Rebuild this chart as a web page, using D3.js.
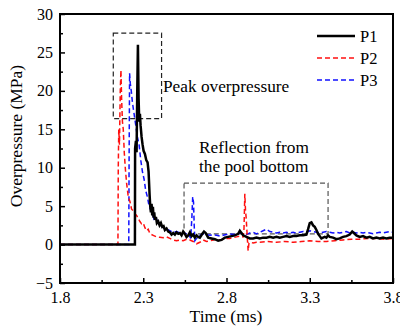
<!DOCTYPE html>
<html><head><meta charset="utf-8">
<script src="https://cdn.jsdelivr.net/npm/d3@7"></script>
<style>body{margin:0;background:#fff}svg{display:block}</style>
</head><body><svg id="c" width="400" height="333"></svg>
<script>
const xTicks=[1.8,2.3,2.8,3.3,3.8];
const xMinor=[2.05,2.55,3.05,3.55];
const yTicks=[-5,0,5,10,15,20,25,30];
const yMinor=[-2.5,2.5,7.5,12.5,17.5,22.5,27.5];
const seriesNames=["P1","P2","P3"];
const p1T=[1.80,2.25,2.251,2.256,2.260,2.264,2.268,2.272,2.276,2.280,2.284,2.290,2.296,2.302,2.310,2.318,2.326,2.332,2.338,2.342,2.346,2.350,2.354,2.358,2.362,2.366,2.370,2.376,2.382,2.390,2.398,2.406,2.414,2.422,2.430,2.440,2.450,2.460,2.470,2.480,2.490,2.500,2.510,2.520,2.530,2.540,2.550,2.560,2.570,2.580,2.590,2.600,2.610,2.620,2.630,2.640,2.655,2.665,2.675,2.690,2.710,2.730,2.750,2.770,2.790,2.810,2.830,2.850,2.870,2.880,2.890,2.900,2.920,2.940,2.960,2.980,3.000,3.020,3.040,3.060,3.080,3.100,3.120,3.140,3.160,3.180,3.200,3.220,3.240,3.260,3.280,3.290,3.300,3.310,3.320,3.330,3.340,3.350,3.360,3.370,3.380,3.390,3.400,3.410,3.420,3.440,3.460,3.480,3.500,3.520,3.540,3.555,3.565,3.580,3.600,3.620,3.640,3.660,3.680,3.700,3.720,3.740,3.760,3.780,3.800];
const p1V=[0,0,12.5,13.5,12,20,26,19,16,17,15.5,14,13,12.2,11.8,11,10.7,9.5,6.5,5.0,4.2,5.3,3.8,4.9,3.5,4.2,3.2,3.6,2.8,3.0,2.5,2.8,2.3,2.4,1.9,2.1,1.7,1.6,1.3,1.5,1.3,1.6,1.4,1.5,1.2,1.7,1.4,1.0,1.2,1.6,1.1,1.3,0.9,1.2,1.0,0.9,1.4,1.7,1.5,0.9,0.8,0.7,0.5,0.6,0.9,1.0,1.1,1.2,1.4,1.8,1.5,1.2,1.0,0.8,0.8,0.9,0.8,0.9,0.9,1.0,0.9,1.0,0.9,1.0,1.1,1.0,1.1,1.1,1.2,1.2,1.3,2.0,2.8,2.9,2.5,2.3,1.9,1.4,1.1,0.8,0.9,1.0,0.9,1.2,1.0,0.9,0.7,0.8,1.0,1.1,1.3,1.7,1.5,1.2,1.0,1.1,0.9,1.0,0.8,0.9,0.8,0.9,0.8,0.9,0.9];
const p2T=[1.80,2.148,2.150,2.153,2.157,2.162,2.166,2.170,2.175,2.180,2.186,2.192,2.200,2.210,2.220,2.230,2.240,2.250,2.260,2.270,2.280,2.290,2.300,2.310,2.320,2.330,2.340,2.360,2.380,2.400,2.420,2.440,2.460,2.480,2.500,2.520,2.540,2.560,2.580,2.600,2.620,2.640,2.660,2.680,2.700,2.720,2.740,2.760,2.780,2.800,2.820,2.840,2.860,2.880,2.900,2.905,2.910,2.914,2.918,2.922,2.926,2.930,2.935,2.945,2.960,2.980,3.000,3.050,3.100,3.150,3.200,3.250,3.300,3.350,3.400,3.450,3.500,3.550,3.600,3.650,3.700,3.750,3.800];
const p2V=[0,0,10,15,13,20,22.7,19,16,15,12,10,8,6.2,5.6,4.6,4.4,4.0,3.8,3.4,3.0,2.7,2.8,2.2,1.8,2.0,1.4,1.2,1.0,0.95,0.9,1.0,0.8,0.6,0.5,0.6,0.5,0.7,0.6,0.4,0.1,0.3,0.6,0.4,0.5,0.6,0.7,0.6,0.7,0.8,0.8,0.9,1.0,1.1,1.0,2.0,6.6,4.5,3.5,2.0,0.5,-0.8,0.2,0.3,0.2,0.3,0.3,0.4,0.3,0.4,0.3,0.4,0.5,0.4,0.4,0.5,0.6,0.7,0.7,0.8,0.8,0.7,0.8];
const p3T=[1.80,2.213,2.215,2.218,2.222,2.228,2.235,2.245,2.255,2.265,2.275,2.285,2.295,2.305,2.315,2.325,2.335,2.345,2.355,2.365,2.375,2.39,2.40,2.42,2.44,2.46,2.48,2.50,2.52,2.54,2.56,2.575,2.585,2.592,2.597,2.602,2.606,2.610,2.62,2.64,2.66,2.68,2.70,2.72,2.74,2.76,2.78,2.80,2.82,2.84,2.86,2.88,2.90,2.92,2.94,2.96,2.98,3.00,3.02,3.04,3.06,3.08,3.10,3.12,3.14,3.16,3.18,3.20,3.22,3.24,3.26,3.28,3.30,3.32,3.34,3.36,3.38,3.40,3.42,3.44,3.46,3.48,3.50,3.52,3.54,3.56,3.58,3.60,3.62,3.64,3.66,3.68,3.70,3.72,3.74,3.76,3.78,3.80];
const p3V=[0,0,11,22.3,21,20,18.5,17,15.5,14,13,11,9.5,8.5,7,6.2,5.0,4.5,4.0,3.3,3.5,2.8,2.6,2.2,2.0,1.8,1.6,1.7,1.5,1.6,1.4,1.3,0.8,3.5,6.2,5.5,2.5,0.5,0.8,1.2,1.4,1.3,1.2,1.3,1.2,1.1,1.2,1.3,1.4,1.3,1.4,1.5,1.4,1.3,1.5,1.6,1.4,1.6,1.8,2.0,1.7,1.6,1.5,1.6,1.5,1.6,1.5,1.6,1.5,1.6,1.7,1.6,1.8,1.7,1.6,1.5,1.6,1.7,1.6,1.5,1.6,1.5,1.6,1.7,1.5,1.6,1.5,1.6,1.5,1.6,1.5,1.4,1.5,1.6,1.5,1.6,1.7,1.6];
const peakBox=[2.12,2.41,27.5,16.4];
const reflBox=[2.545,3.41,8.0,1.4];

const FONT="'Liberation Serif'";
const svg=d3.select("#c");
const L=60,R=393,T=14,B=283;
const x=d3.scaleLinear().domain([1.8,3.8]).range([L,R]);
const y=d3.scaleLinear().domain([-5,30]).range([B,T]);

svg.append("defs").append("clipPath").attr("id","clip").append("rect").attr("x",L).attr("y",T).attr("width",R-L).attr("height",B-T);

svg.append("rect").attr("x",x(peakBox[0])).attr("y",y(peakBox[2])).attr("width",x(peakBox[1])-x(peakBox[0])).attr("height",y(peakBox[3])-y(peakBox[2]))
  .attr("fill","none").attr("stroke","#222").attr("stroke-width",1.2).attr("stroke-dasharray","5,3");
svg.append("rect").attr("x",x(reflBox[0])).attr("y",y(reflBox[2])).attr("width",x(reflBox[1])-x(reflBox[0])).attr("height",y(reflBox[3])-y(reflBox[2]))
  .attr("fill","none").attr("stroke","#555").attr("stroke-width",1.2).attr("stroke-dasharray","5,3");

const line=d3.line().x(d=>x(d[0])).y(d=>y(d[1]));
const g=svg.append("g").attr("clip-path","url(#clip)");
const zip=(a,b)=>a.map((t,i)=>[t,b[i]]);
g.append("path").datum(zip(p3T,p3V)).attr("d",line).attr("fill","none").attr("stroke","#1010ff").attr("stroke-width",1.5).attr("stroke-dasharray","5,3");
g.append("path").datum(zip(p2T,p2V)).attr("d",line).attr("fill","none").attr("stroke","#ff1010").attr("stroke-width",1.5).attr("stroke-dasharray","5,3");
g.append("path").datum(zip(p1T,p1V)).attr("d",line).attr("fill","none").attr("stroke","#000").attr("stroke-width",2.5);

const xa=svg.append("g").attr("transform",`translate(0,${B})`).call(d3.axisBottom(x).tickValues(xTicks).tickSizeInner(-5).tickSizeOuter(0).tickPadding(9).tickFormat(d3.format(".1f")));
const ya=svg.append("g").attr("transform",`translate(${L},0)`).call(d3.axisLeft(y).tickValues(yTicks).tickSizeInner(-5).tickSizeOuter(0).tickPadding(7));
svg.append("g").attr("transform",`translate(0,${B})`).call(d3.axisBottom(x).tickValues(xMinor).tickSize(-3).tickFormat(""));
svg.append("g").attr("transform",`translate(${L},0)`).call(d3.axisLeft(y).tickValues(yMinor).tickSize(-3).tickFormat(""));
svg.selectAll(".domain").remove();
svg.selectAll(".tick line").attr("stroke","#000").attr("stroke-width",1.5);
[xa,ya].forEach(a=>a.attr("font-family",FONT).attr("font-size",16).selectAll("text").attr("fill","#000"));
svg.append("rect").attr("x",L).attr("y",T).attr("width",R-L).attr("height",B-T).attr("fill","none").attr("stroke","#000").attr("stroke-width",2);

const txt=(xx,yy,s,size)=>svg.append("text").attr("x",xx).attr("y",yy).attr("font-family",FONT).attr("font-size",size).attr("fill","#000").text(s);
txt(226,322,"Time (ms)",17.5).attr("text-anchor","middle");
svg.append("text").attr("transform","translate(22,136) rotate(-90)").attr("text-anchor","middle").attr("font-family",FONT).attr("font-size",17.5).attr("fill","#000").text("Overpressure (MPa)");
txt(163,92,"Peak overpressure",17.3);
txt(199,153,"Reflection from",17.3);
txt(199,172,"the pool bottom",17.3);

const legStyles=[{c:"#000",w:2.5,d:null},{c:"#ff1010",w:1.5,d:"5,3"},{c:"#1010ff",w:1.5,d:"5,3"}];
const legY=[36,58,80];
seriesNames.forEach((n,i)=>{
  const l=svg.append("line").attr("x1",317).attr("x2",355).attr("y1",legY[i]).attr("y2",legY[i]).attr("stroke",legStyles[i].c).attr("stroke-width",legStyles[i].w);
  if(legStyles[i].d) l.attr("stroke-dasharray",legStyles[i].d);
  txt(360,legY[i]+6,n,16.5);
});
</script></body></html>
